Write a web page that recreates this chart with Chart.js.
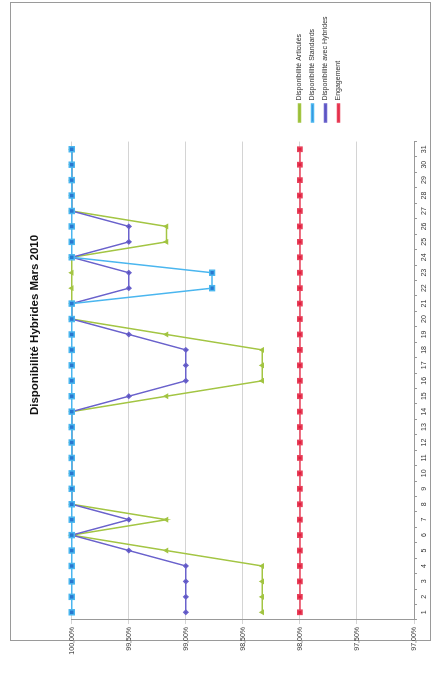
<!DOCTYPE html>
<html>
<head>
<meta charset="utf-8">
<script src="https://cdn.jsdelivr.net/npm/chart.js@4.4.1/dist/chart.umd.min.js"></script>
<style>
  html, body { margin: 0; padding: 0; background: #fff; width: 436px; height: 675px; overflow: hidden; }
  #frame { position: absolute; left: 10px; top: 2px; width: 419px; height: 637px; border: 1px solid #9a9a9a; }
  /* the scanned chart lies on its side: draw it upright, then turn it a quarter left */
  #chart { position: absolute; left: 0; top: 675px; transform-origin: 0 0; transform: rotate(-90deg); }
</style>
</head>
<body>
<div id="frame"></div>
<canvas id="chart" width="675" height="436"></canvas>
<script>
const days = ['1','2','3','4','5','6','7','8','9','10','11','12','13','14','15','16',
              '17','18','19','20','21','22','23','24','25','26','27','28','29','30','31'];

const articules = [98.33, 98.33, 98.33, 98.33, 99.17, 100, 99.17, 100, 100, 100, 100, 100, 100, 100,
                   99.17, 98.33, 98.33, 98.33, 99.17, 100, 100, 100, 100, 100, 99.17, 99.17,
                   100, 100, 100, 100, 100];
const standards = [100, 100, 100, 100, 100, 100, 100, 100, 100, 100, 100, 100, 100, 100, 100, 100,
                   100, 100, 100, 100, 100, 98.77, 98.77, 100, 100, 100, 100, 100, 100, 100, 100];
const hybrides  = [99, 99, 99, 99, 99.5, 100, 99.5, 100, 100, 100, 100, 100, 100, 100,
                   99.5, 99, 99, 99, 99.5, 100, 100, 99.5, 99.5, 100, 99.5, 99.5,
                   100, 100, 100, 100, 100];
const engagement = [98, 98, 98, 98, 98, 98, 98, 98, 98, 98, 98, 98, 98, 98, 98, 98,
                    98, 98, 98, 98, 98, 98, 98, 98, 98, 98, 98, 98, 98, 98, 98];

const yMin = 97, yMax = 100, yStep = 0.5;

const font = "'Liberation Sans', Arial, sans-serif";

// move the legend and the title to where the original had them
const boxPlace = {
  id: 'boxPlace',
  afterLayout(chart) {
    const l = chart.legend;
    const w = l.right - l.left, h = l.bottom - l.top;
    l.left = 547; l.right = 547 + w;
    l.top = 290; l.bottom = 290 + h;
    const t = chart.titleBlock;
    t.left += 14; t.right += 14;
  }
};

new Chart(document.getElementById('chart'), {
  type: 'line',
  data: {
    labels: days,
    datasets: [
      {
        label: 'Disponibilité Articulés',
        data: articules,
        borderColor: '#a3c543',
        backgroundColor: '#8fb534',
        borderWidth: 1.5,
        pointStyle: 'triangle',
        pointRadius: 2,
        order: 3,
        clip: 8
      },
      {
        label: 'Disponibilité Standards',
        data: standards,
        borderColor: '#4ab6ef',
        backgroundColor: '#2a78cf',
        borderWidth: 1.5,
        pointStyle: 'rect',
        pointRadius: 3.5,
        order: 0,
        clip: 8
      },
      {
        label: 'Disponibilité avec Hybrides',
        data: hybrides,
        borderColor: '#6a62cc',
        backgroundColor: '#4f48b5',
        borderWidth: 1.5,
        pointStyle: 'rectRot',
        pointRadius: 2,
        order: 2,
        clip: 8
      },
      {
        label: 'Engagement',
        data: engagement,
        borderColor: '#e8405a',
        backgroundColor: '#e0203f',
        borderWidth: 1.5,
        pointStyle: 'rect',
        pointRadius: 3,
        order: 1,
        clip: 8
      }
    ]
  },
  options: {
    responsive: false,
    animation: false,
    layout: { padding: { left: 17, right: 20, top: 0, bottom: 0 } },
    plugins: {
      title: {
        display: true,
        text: 'Disponibilité Hybrides Mars 2010',
        color: '#111',
        font: { family: font, size: 11.5, weight: 'bold' },
        padding: { top: 28, bottom: 30 }
      },
      legend: {
        position: 'right',
        align: 'start',
        fullSize: false,
        labels: {
          boxWidth: 18,
          boxHeight: 2,
          padding: 6,
          color: '#333',
          font: { family: font, size: 7 },
          sort: (a, b) => a.datasetIndex - b.datasetIndex
        }
      },
      tooltip: { enabled: false }
    },
    scales: {
      x: {
        offset: true,
        grid: { drawOnChartArea: false, tickLength: 3, color: '#999', offset: true },
        border: { color: '#999' },
        ticks: { autoSkip: false, maxRotation: 0, padding: 3, color: '#333', font: { family: font, size: 7 } },
        afterFit(s) { s.height = 22; }
      },
      y: {
        min: yMin,
        max: yMax,
        grid: { color: '#d4d4d4', tickLength: 4 },
        border: { color: '#999' },
        ticks: {
          stepSize: yStep,
          padding: 3,
          color: '#333',
          font: { family: font, size: 7 },
          callback: v => v.toFixed(2).replace('.', ',') + '%'
        },
        afterFit(s) { s.width = 38; }
      }
    }
  },
  plugins: [boxPlace]
});
</script>
</body>
</html>
